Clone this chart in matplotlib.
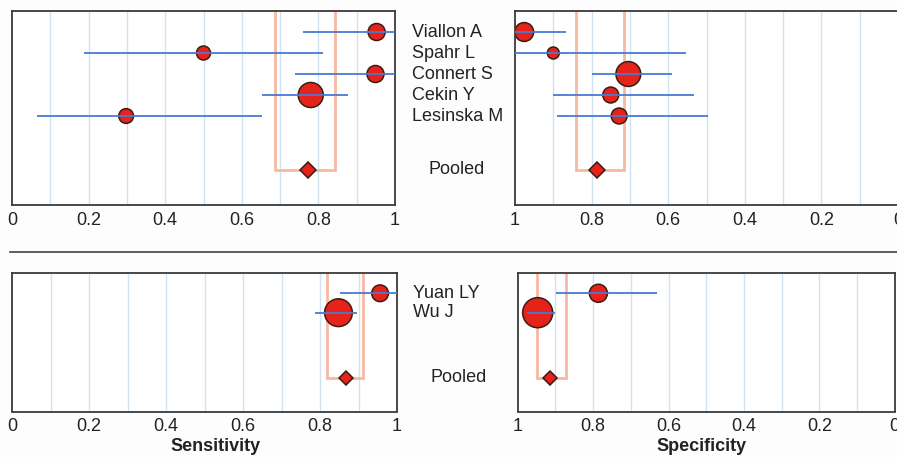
import matplotlib
matplotlib.use("Agg")
import matplotlib.pyplot as plt
from matplotlib.transforms import blended_transform_factory
from matplotlib.lines import Line2D

plt.rcParams['font.family'] = ['Liberation Sans', 'DejaVu Sans']

# ---------------- data ----------------
studies_top = ["Viallon A", "Spahr L", "Connert S", "Cekin Y", "Lesinska M"]
sens_top = [0.952, 0.500, 0.949, 0.780, 0.298]
sens_top_lo = [0.761, 0.188, 0.739, 0.654, 0.066]
sens_top_hi = [1.000, 0.813, 1.000, 0.878, 0.653]
sens_top_w = [17.9, 12.1, 17.9, 38.7, 13.4]
sens_top_pooled = 0.774
sens_top_pooled_ci = [0.687, 0.843]

spec_top = [0.976, 0.900, 0.704, 0.750, 0.728]
spec_top_lo = [0.867, 0.554, 0.591, 0.532, 0.497]
spec_top_hi = [1.000, 1.000, 0.800, 0.900, 0.891]
spec_top_w = [22.0, 8.8, 38.1, 15.6, 15.6]
spec_top_pooled = 0.786
spec_top_pooled_ci = [0.715, 0.842]

studies_bot = ["Yuan LY", "Wu J"]
sens_bot = [0.956, 0.848]
sens_bot_lo = [0.851, 0.787]
sens_bot_hi = [1.000, 0.895]
sens_bot_w = [17.2, 47.5]
sens_bot_pooled = 0.867
sens_bot_pooled_ci = [0.818, 0.911]

spec_bot = [0.786, 0.947]
spec_bot_lo = [0.630, 0.901]
spec_bot_hi = [0.898, 0.975]
spec_bot_w = [20.1, 55.7]
spec_bot_pooled = 0.914
spec_bot_pooled_ci = [0.872, 0.950]

ticks = [0, 0.2, 0.4, 0.6, 0.8, 1.0]
tick_labels = ["0", "0.2", "0.4", "0.6", "0.8", "1"]
grid_vals = [0.1, 0.2, 0.3, 0.4, 0.5, 0.6, 0.7, 0.8, 0.9]

# ---------------- style ----------------
W, H = 897, 457
RED = '#e5231b'
EDGE = '#3b1c12'
BLUE = '#4a78d2'
SALMON = '#f8b9a2'
GRID = '#d2e2ef'
SPINE = '#3a3a3a'
SIZE_SCALE = 8.4

fig = plt.figure(figsize=(W / 100, H / 100), dpi=100)
fig.patch.set_facecolor('#fdfdfd')


def px_axes(left, top, right, bottom):
    return fig.add_axes([left / W, 1 - bottom / H, (right - left) / W, (bottom - top) / H])


def draw_panel(ax, vals, lo, hi, w, pooled, pooled_ci, pooled_row, ylim,
               invert, diamond_ms):
    rows = list(range(len(vals)))
    ax.set_facecolor('white')
    for g in grid_vals:
        ax.axvline(g, color=GRID, lw=1.0, zorder=0)
    # pooled CI box
    top_y = ylim[1]
    ax.plot([pooled_ci[0], pooled_ci[0], pooled_ci[1], pooled_ci[1]],
            [top_y, pooled_row, pooled_row, top_y],
            color=SALMON, lw=2.0, zorder=1, solid_joinstyle='miter')
    ax.scatter(vals, rows, s=[SIZE_SCALE * x for x in w], color=RED,
               edgecolor=EDGE, linewidth=1.1, zorder=2)
    ax.hlines(rows, lo, hi, color=BLUE, lw=1.3, zorder=3)
    ax.plot([pooled], [pooled_row], marker='D', ms=diamond_ms, color=RED,
            markeredgecolor=EDGE, markeredgewidth=1.1, zorder=4)
    ax.set_ylim(*ylim)
    if invert:
        ax.set_xlim(1, 0)
    else:
        ax.set_xlim(0, 1)
    ax.set_yticks([])
    ax.set_xticks(ticks)
    ax.set_xticklabels(tick_labels)
    ax.tick_params(axis='x', length=0, pad=5, labelsize=13, colors='#222222')
    for sp in ax.spines.values():
        sp.set_color(SPINE)
        sp.set_linewidth(1.3)


# top panels
ylim_top = (8.238, -1.0)
ax_tl = px_axes(12, 11, 395, 205)
draw_panel(ax_tl, sens_top, sens_top_lo, sens_top_hi, sens_top_w,
           sens_top_pooled, sens_top_pooled_ci, 6.571, ylim_top, False, 8)
ax_tr = px_axes(515, 11, 898, 205)
draw_panel(ax_tr, spec_top, spec_top_lo, spec_top_hi, spec_top_w,
           spec_top_pooled, spec_top_pooled_ci, 6.571, ylim_top, True, 8)

# bottom panels
ylim_bot = (6.09, -1.06)
ax_bl = px_axes(12, 272.7, 397, 411.5)
draw_panel(ax_bl, sens_bot, sens_bot_lo, sens_bot_hi, sens_bot_w,
           sens_bot_pooled, sens_bot_pooled_ci, 4.34, ylim_bot, False, 7.5)
ax_br = px_axes(517.7, 272.7, 894.7, 411.5)
draw_panel(ax_br, spec_bot, spec_bot_lo, spec_bot_hi, spec_bot_w,
           spec_bot_pooled, spec_bot_pooled_ci, 4.34, ylim_bot, True, 7.5)

# study labels
tr_top = blended_transform_factory(fig.transFigure, ax_tl.transData)
for i, name in enumerate(studies_top):
    fig.text(412 / W, i, name, transform=tr_top, va='center', ha='left',
             fontsize=13, color='#222222')
fig.text(428.5 / W, 6.571, "Pooled", transform=tr_top, va='center', ha='left',
         fontsize=13, color='#222222')

tr_bot = blended_transform_factory(fig.transFigure, ax_bl.transData)
for i, name in enumerate(studies_bot):
    fig.text(413 / W, i, name, transform=tr_bot, va='center', ha='left',
             fontsize=13, color='#222222')
fig.text(430 / W, 4.34, "Pooled", transform=tr_bot, va='center', ha='left',
         fontsize=13, color='#222222')

# separator line
fig.add_artist(Line2D([10 / W, 1.0], [1 - 251.7 / H, 1 - 251.7 / H],
                      transform=fig.transFigure, color='#444444', lw=1.2))

# axis titles
fig.text(216 / W, 1 - 446.7 / H, "Sensitivity", ha='center', va='center',
         fontsize=13, fontweight='bold', color='#222222')
fig.text(701.7 / W, 1 - 446.7 / H, "Specificity", ha='center', va='center',
         fontsize=13, fontweight='bold', color='#222222')

fig.savefig("out.png", dpi=100, facecolor=fig.get_facecolor())
